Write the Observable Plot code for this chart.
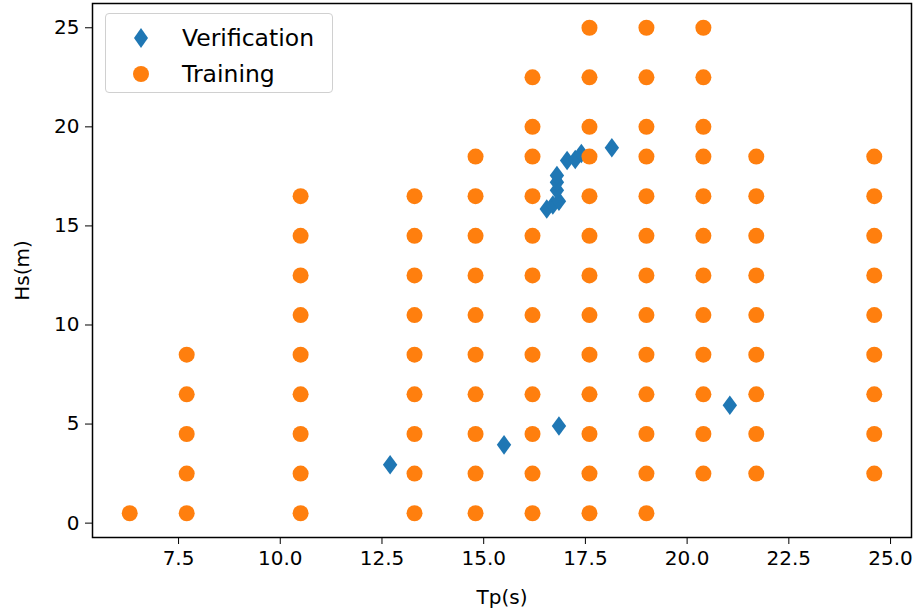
<!DOCTYPE html>
<html>
<head>
<meta charset="utf-8">
<script src="https://cdn.jsdelivr.net/npm/d3@7"></script>
<script src="https://cdn.jsdelivr.net/npm/@observablehq/plot@0.6"></script>
<style>
  html, body { margin: 0; padding: 0; background: #fff; }
  #wrap { position: relative; width: 917px; height: 615px; font-family: "DejaVu Sans", sans-serif; }
  #legend { position: absolute; left: 105px; top: 13px; width: 226px; height: 78px;
    border: 1px solid #d0d0d0; border-radius: 4px; background: rgba(255,255,255,0.8); }
  #legend .row { position: absolute; left: 0; width: 100%; height: 30px; }
  #legend .lab { position: absolute; left: 76px; top: 0; line-height: 30px; font-size: 23.5px; color: #000; white-space: nowrap; }
</style>
</head>
<body>
<div id="wrap"></div>
<script>
// Training grid: Tp columns and the Hs values present in each column
const trainTp = [6.3, 7.7, 10.5, 13.3, 14.8, 16.2, 17.6, 19.0, 20.4, 21.7, 24.6];
const trainHs = [
  [0.5],
  [0.5, 2.5, 4.5, 6.5, 8.5],
  [0.5, 2.5, 4.5, 6.5, 8.5, 10.5, 12.5, 14.5, 16.5],
  [0.5, 2.5, 4.5, 6.5, 8.5, 10.5, 12.5, 14.5, 16.5],
  [0.5, 2.5, 4.5, 6.5, 8.5, 10.5, 12.5, 14.5, 16.5, 18.5],
  [0.5, 2.5, 4.5, 6.5, 8.5, 10.5, 12.5, 14.5, 16.5, 18.5, 20, 22.5],
  [0.5, 2.5, 4.5, 6.5, 8.5, 10.5, 12.5, 14.5, 16.5, 18.5, 20, 22.5, 25],
  [0.5, 2.5, 4.5, 6.5, 8.5, 10.5, 12.5, 14.5, 16.5, 18.5, 20, 22.5, 25],
  [2.5, 4.5, 6.5, 8.5, 10.5, 12.5, 14.5, 16.5, 18.5, 20, 22.5, 25],
  [2.5, 4.5, 6.5, 8.5, 10.5, 12.5, 14.5, 16.5, 18.5],
  [2.5, 4.5, 6.5, 8.5, 10.5, 12.5, 14.5, 16.5, 18.5]
];
// Verification points
const verTp = [12.7, 15.5, 16.85, 21.05, 18.15, 16.55, 16.7, 16.85, 16.8, 16.8, 16.8, 17.05, 17.25, 17.4];
const verHs = [2.95, 3.95, 4.9, 5.95, 18.95, 15.85, 16.05, 16.25, 16.8, 17.2, 17.55, 18.3, 18.35, 18.65];
// Axis ticks
const xTicks = [7.5, 10.0, 12.5, 15.0, 17.5, 20.0, 22.5, 25.0];
const yTicks = [0, 5, 10, 15, 20, 25];
const seriesNames = ["Verification", "Training"];
const colors = ["#1f77b4", "#ff7f0e"];

const training = trainTp.flatMap((tp, i) => trainHs[i].map(hs => ({tp, hs})));
const verification = verTp.map((tp, i) => ({tp, hs: verHs[i]}));

const thinDiamond = {
  draw(ctx, size) {
    const r = Math.sqrt(size / Math.PI);
    const h = r * 1.22, w = r * 0.9;
    ctx.moveTo(0, -h); ctx.lineTo(w, 0); ctx.lineTo(0, h); ctx.lineTo(-w, 0); ctx.closePath();
  }
};

const allTp = [...verTp, ...training.map(d => d.tp)];
const allHs = [...verHs, ...training.map(d => d.hs)];
const pad = (ext) => { const m = (ext[1] - ext[0]) * 0.05; return [ext[0] - m, ext[1] + m]; };

const chart = Plot.plot({
  width: 917,
  height: 615,
  marginLeft: 92,
  marginRight: 6,
  marginTop: 3,
  marginBottom: 78,
  style: {fontFamily: "DejaVu Sans, sans-serif", fontSize: "20px", color: "#000", background: "#fff"},
  x: {domain: pad(d3.extent(allTp))},
  y: {domain: pad(d3.extent(allHs))},
  marks: [
    Plot.axisX({ticks: xTicks, tickFormat: d => d.toFixed(1), tickSize: 7, tickPadding: 6, label: null, fontSize: 20}),
    Plot.axisY({ticks: yTicks, tickFormat: d => String(d), tickSize: 7, tickPadding: 6, label: null, fontSize: 20}),
    Plot.dot(verification, {x: "tp", y: "hs", r: 8, symbol: thinDiamond, fill: colors[0], stroke: "none"}),
    Plot.dot(training, {x: "tp", y: "hs", r: 8, fill: colors[1], stroke: "none"}),
    Plot.frame({stroke: "#000", strokeWidth: 1.5}),
    Plot.text(["Tp(s)"], {frameAnchor: "bottom", dy: 66, text: d => d, fontSize: 20}),
    Plot.text(["Hs(m)"], {frameAnchor: "left", dx: -70, rotate: -90, textAnchor: "middle", text: d => d, fontSize: 20})
  ]
});

const wrap = document.getElementById("wrap");
wrap.appendChild(chart);

// Legend overlay
const legend = document.createElement("div");
legend.id = "legend";
const symbols = [
  `<svg width="20" height="24" viewBox="-10 -12 20 24"><path d="M0,-10L7,0L0,10L-7,0Z" fill="${colors[0]}"/></svg>`,
  `<svg width="20" height="20" viewBox="-10 -10 20 20"><circle r="8" fill="${colors[1]}"/></svg>`
];
seriesNames.forEach((name, i) => {
  const row = document.createElement("div");
  row.className = "row";
  row.style.top = (i === 0 ? 9 : 45) + "px";
  row.innerHTML = `<span style="position:absolute;left:25px;top:${i===0?3:5}px;line-height:0">${symbols[i]}</span><span class="lab">${name}</span>`;
  legend.appendChild(row);
});
wrap.appendChild(legend);
</script>
</body>
</html>
